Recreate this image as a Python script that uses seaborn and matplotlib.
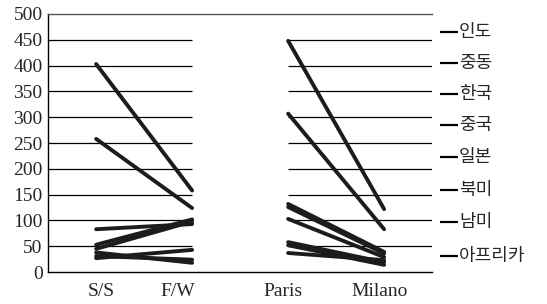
import pandas as pd
import matplotlib
matplotlib.use('Agg')
import matplotlib.pyplot as plt
import seaborn as sns

sns.set_style('white')
plt.rcParams['font.family'] = ['Liberation Serif', 'DejaVu Serif']

# 데이터
season_labels = ['S/S', 'F/W']
city_labels = ['Paris', 'Milano']
ss_values = [403, 258, 83, 53, 45, 27, 38, 31]
fw_values = [158, 124, 93, 102, 98, 43, 18, 24]
paris_values = [448, 307, 132, 126, 103, 58, 52, 37]
milano_values = [122, 83, 39, 36, 29, 19, 14, 23]
regions = ['인도', '중동', '한국', '중국', '일본', '북미', '남미', '아프리카']
label_y = [465, 405, 345, 285, 223, 159, 97, 31]

rows = []
for i in range(len(ss_values)):
    rows.append({'line': f'a{i}', 'x': 0, 'v': ss_values[i]})
    rows.append({'line': f'a{i}', 'x': 1, 'v': fw_values[i]})
    rows.append({'line': f'b{i}', 'x': 2, 'v': paris_values[i]})
    rows.append({'line': f'b{i}', 'x': 3, 'v': milano_values[i]})
df = pd.DataFrame(rows)

fig = plt.figure(figsize=(5.47, 3.04), dpi=100)
ax = fig.add_axes([0.088, 0.105, 0.702, 0.849])

# 가로 격자 (두 구간)
for g in range(50, 500, 50):
    ax.hlines(g, -0.5, 1, color='black', lw=0.9, zorder=1)
    ax.hlines(g, 2, 3.5, color='black', lw=0.9, zorder=1)

sns.lineplot(data=df, x='x', y='v', units='line', estimator=None,
             color='#1c1c1c', lw=2.8, ax=ax, zorder=3)

ax.set_xlim(-0.5, 3.5)
ax.set_ylim(0, 500)
ax.set_xticks([0.05, 0.85, 1.95, 2.95])
ax.set_xticklabels(season_labels + city_labels, fontsize=14)
ax.set_yticks(range(0, 501, 50))
ax.tick_params(axis='y', labelsize=14, length=0, pad=4)
ax.tick_params(axis='x', length=0, pad=8)
ax.set_xlabel('')
ax.set_ylabel('')
for s in ['left', 'bottom', 'top']:
    ax.spines[s].set_color('black')
    ax.spines[s].set_linewidth(1.0)
ax.spines['top'].set_color('#555555')
ax.spines['right'].set_visible(False)

# 오른쪽 지역 목록
for name, y in zip(regions, label_y):
    ax.plot([3.58, 3.77], [y, y], color='black', lw=1.6, clip_on=False,
            solid_capstyle='butt')
    ax.text(3.78, y, name, fontsize=13, va='center', ha='left',
            family=['Noto Sans CJK KR', 'DejaVu Sans'], clip_on=False)

plt.savefig('out.png', dpi=100, facecolor='white')
plt.close()
